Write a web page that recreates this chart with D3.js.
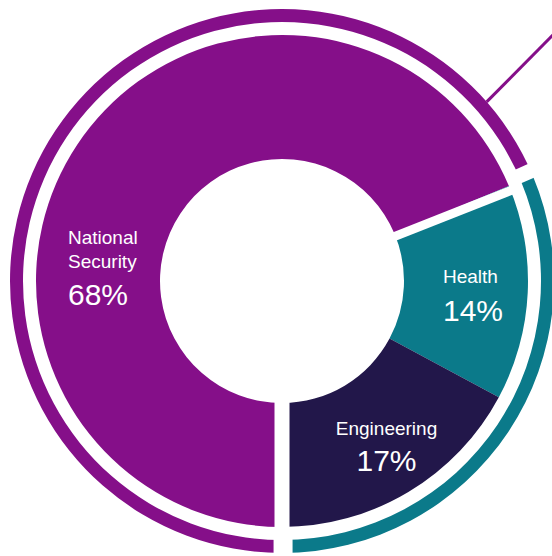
<!DOCTYPE html>
<html><head><meta charset="utf-8">
<script src="https://cdn.jsdelivr.net/npm/d3@7"></script>
<style>html,body{margin:0;padding:0;background:#fff;} svg{display:block;}</style>
</head><body>
<svg id="chart" width="552" height="556"></svg>
<script>
// ---- data ----
const categories = ["National Security", "Health", "Engineering"];
const values = [68, 14, 17];
const valueLabels = ["68%", "14%", "17%"];
const nameLines = [["National", "Security"], ["Health"], ["Engineering"]];

// ---- styles / layout (not data) ----
const colors = ["#850f89", "#0b7a8a", "#22174a"];
const ringColors = ["#850f89", "#0b7a8a"];
const labelLayout = [
  {x: 68, anchor: "start", lines: [244, 268], pct: 305, pctSize: 30},
  {x: 443, anchor: "start", lines: [283], pct: 321, pctSize: 30},
  {x: 386.5, anchor: "middle", lines: [435], pct: 471, pctSize: 30}
];
const cx = 282, cy = 281;
const rIn = 122, rOut = 246, ringIn = 259, ringOut = 272;

const svg = d3.select("#chart");
const g = svg.append("g").attr("transform", `translate(${cx},${cy})`);

const pie = d3.pie().sort(null).startAngle(Math.PI).endAngle(3 * Math.PI);
const arcs = pie(values);
const arc = d3.arc().innerRadius(rIn).outerRadius(rOut);
const ringArc = d3.arc().innerRadius(ringIn).outerRadius(ringOut);

// main donut
g.selectAll("path.slice").data(arcs).join("path")
  .attr("class", "slice")
  .attr("d", arc)
  .attr("fill", (d, i) => colors[i]);

// outer ring: first category vs the rest
const ringData = [
  {startAngle: arcs[0].startAngle, endAngle: arcs[0].endAngle},
  {startAngle: arcs[1].startAngle, endAngle: arcs[arcs.length - 1].endAngle}
];
g.selectAll("path.ring").data(ringData).join("path")
  .attr("class", "ring")
  .attr("d", ringArc)
  .attr("fill", (d, i) => ringColors[i]);

// white separators (constant-width gaps)
const polar = (a, r) => [r * Math.sin(a), -r * Math.cos(a)];
const seps = [
  {a: arcs[0].endAngle + 0.02, r0: rIn - 2, r1: rOut + 2, w: 9},
  {a: arcs[0].startAngle, r0: rIn - 2, r1: rOut + 2, w: 15},
  {a: arcs[0].endAngle - 0.02, r0: ringIn - 2, r1: ringOut + 2, w: 15},
  {a: arcs[0].startAngle - 0.004, r0: ringIn - 2, r1: ringOut + 2, w: 19}
];
g.selectAll("line.sep").data(seps).join("line")
  .attr("class", "sep")
  .attr("x1", d => polar(d.a, d.r0)[0]).attr("y1", d => polar(d.a, d.r0)[1])
  .attr("x2", d => polar(d.a, d.r1)[0]).attr("y2", d => polar(d.a, d.r1)[1])
  .attr("stroke", "#fff").attr("stroke-width", d => d.w);

// leader line from the ring toward an off-canvas label
const la0 = 48.8 * Math.PI / 180, la1 = 47.5 * Math.PI / 180;
g.append("line")
  .attr("x1", polar(la0, ringOut)[0]).attr("y1", polar(la0, ringOut)[1])
  .attr("x2", polar(la1, 400)[0]).attr("y2", polar(la1, 400)[1])
  .attr("stroke", colors[0]).attr("stroke-width", 3);

// labels
const lbl = svg.append("g")
  .attr("font-family", "'Liberation Sans', Arial, sans-serif")
  .attr("fill", "#fff");
categories.forEach((c, i) => {
  const L = labelLayout[i];
  nameLines[i].forEach((t, j) => {
    lbl.append("text").attr("x", L.x).attr("y", L.lines[j])
      .attr("text-anchor", L.anchor).attr("font-size", 19).text(t);
  });
  lbl.append("text").attr("x", L.x).attr("y", L.pct)
    .attr("text-anchor", L.anchor).attr("font-size", L.pctSize).text(valueLabels[i]);
});
</script>
</body></html>
